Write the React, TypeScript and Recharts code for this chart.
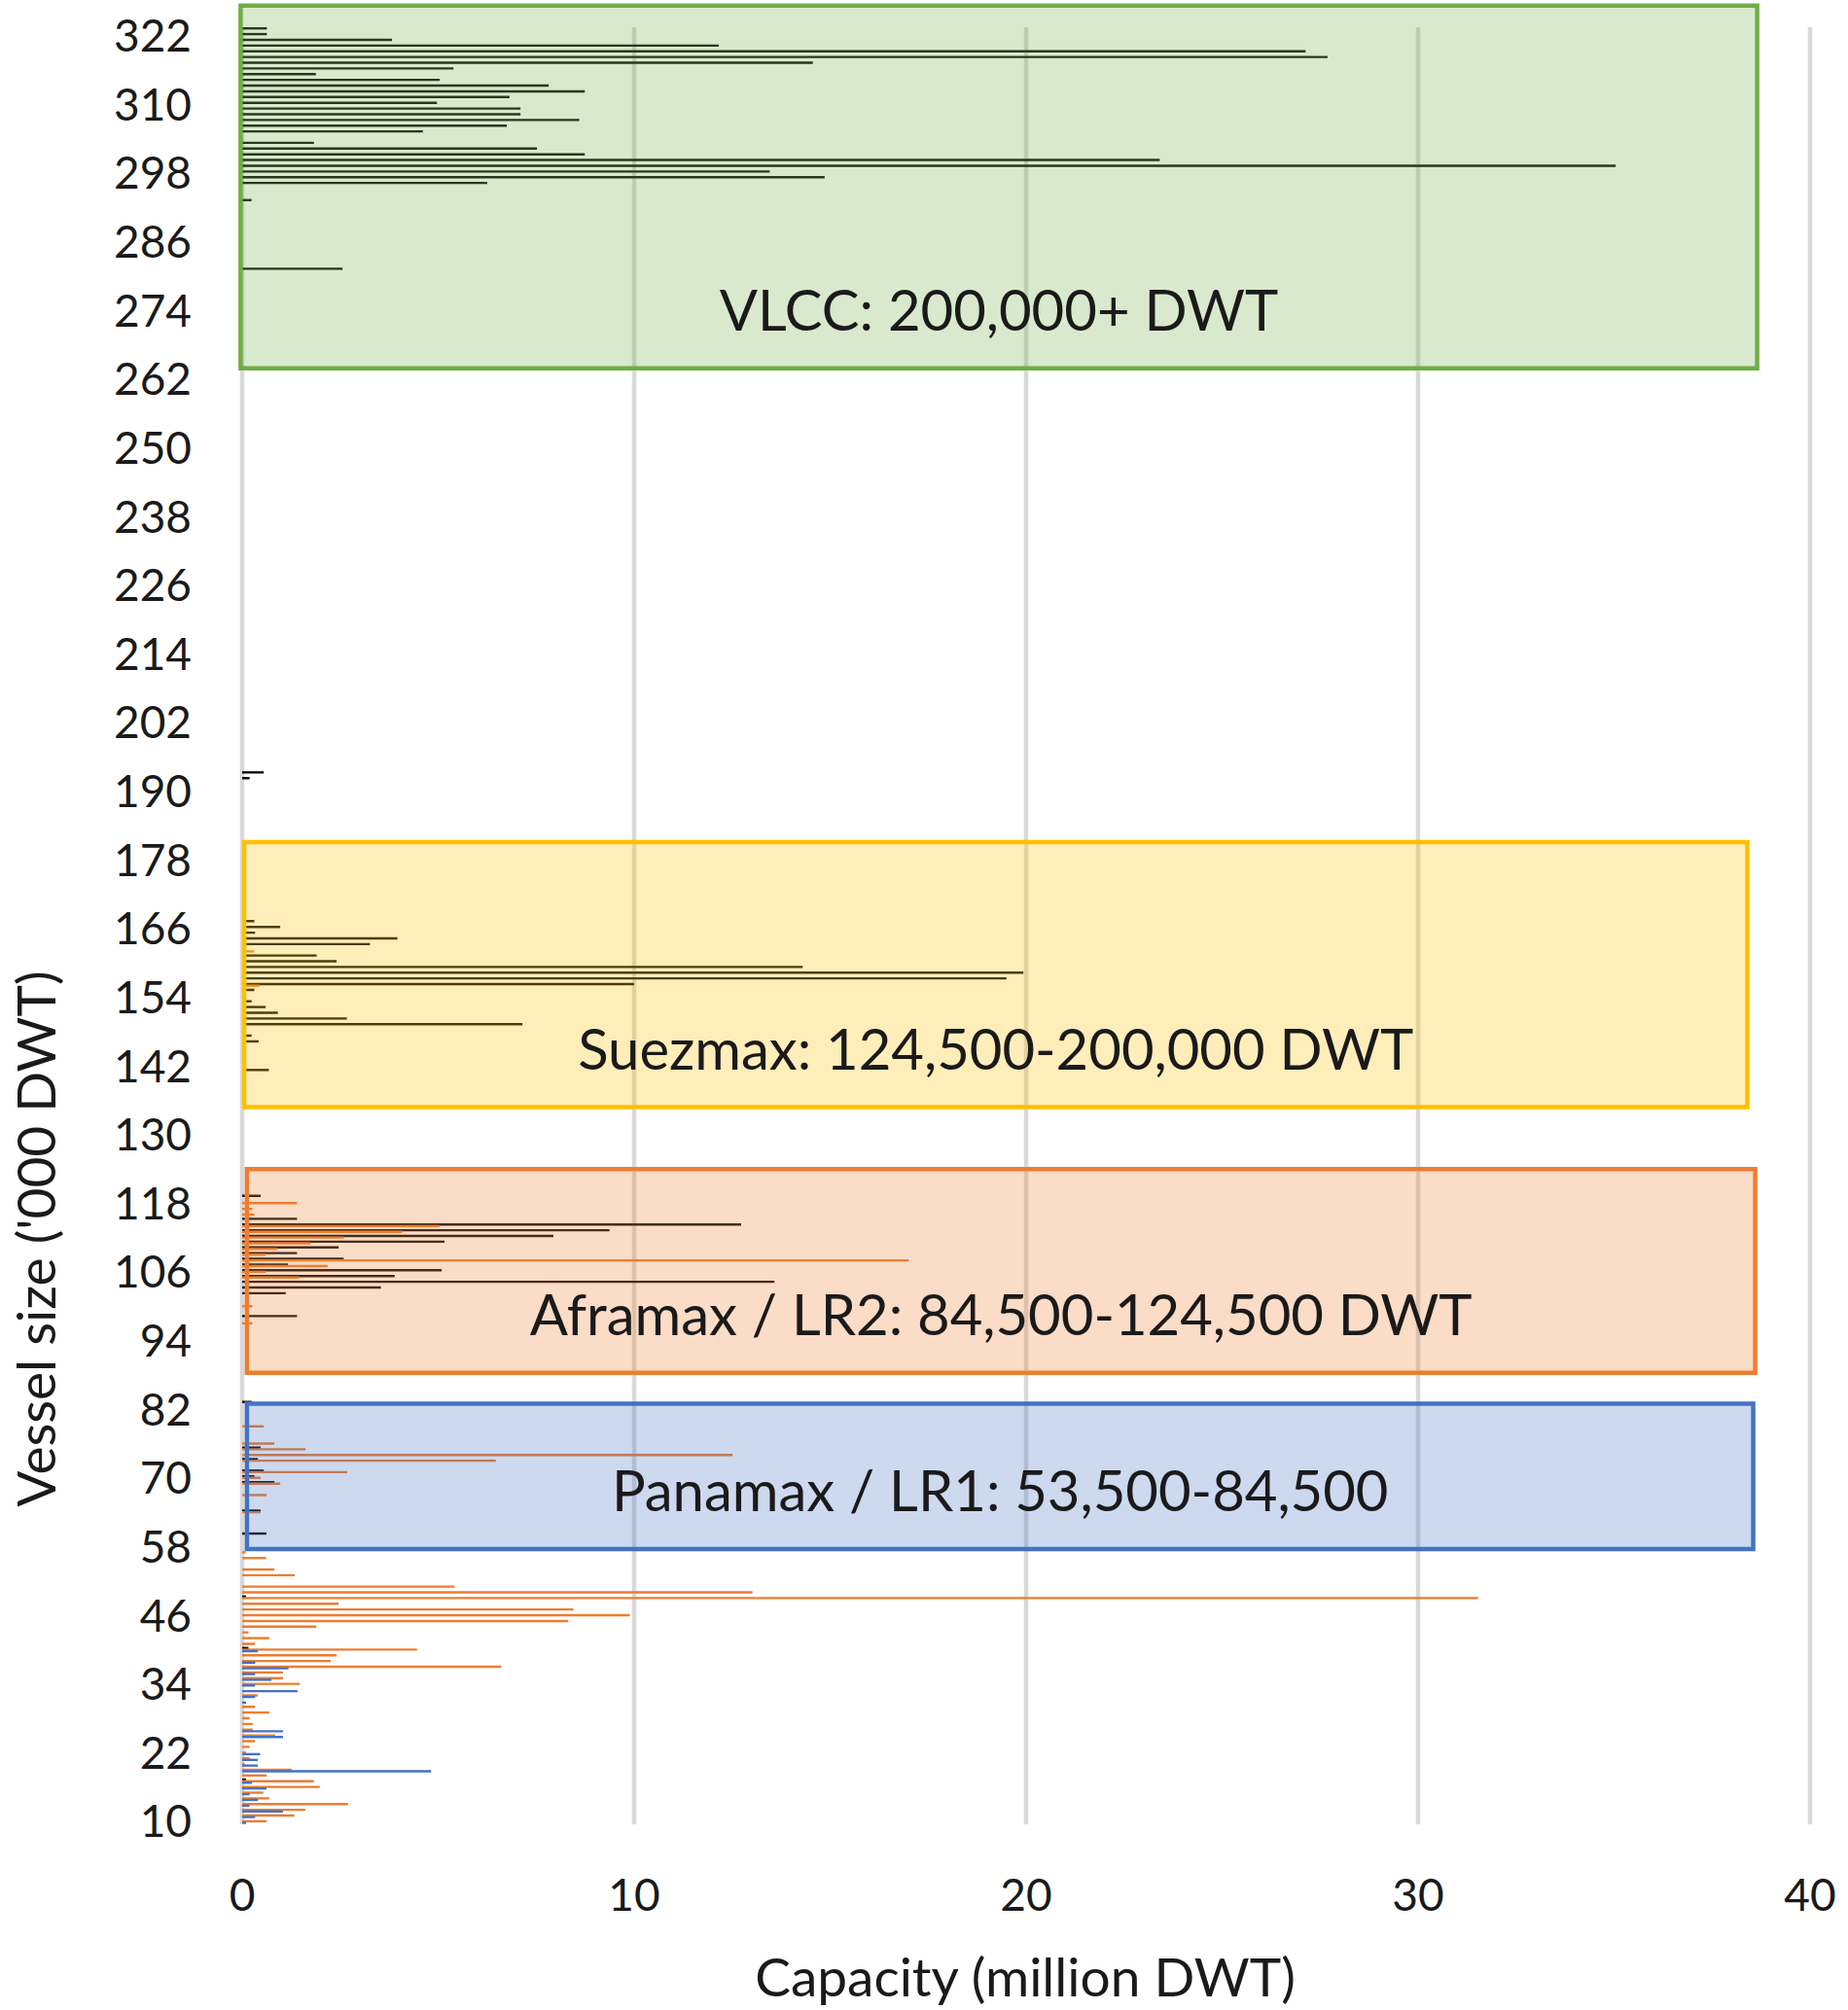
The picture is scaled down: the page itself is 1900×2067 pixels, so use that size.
import { BarChart, Bar, XAxis, YAxis, CartesianGrid, ReferenceArea } from 'recharts';

const FONT = 'Lato, "Open Sans", sans-serif';

// Vessel size bins, '000 DWT, one bin per thousand tonnes
const SIZE_MIN = 10;
const SIZE_MAX = 323;

const yTicks = [10, 22, 34, 46, 58, 70, 82, 94, 106, 118, 130, 142, 154, 166, 178, 190, 202, 214, 226, 238, 250, 262, 274, 286, 298, 310, 322];
const xTicks = [0, 10, 20, 30, 40];

// [vessel size, capacity in million DWT] -- black series
const crudeBars: [number, number][] = [
  [323, 0.63], [322, 0.63], [321, 3.82], [320, 12.16], [319, 27.13], [318, 27.69], [317, 14.56],
  [316, 5.39], [315, 1.88], [314, 5.04], [313, 7.82], [312, 8.74], [311, 6.82], [310, 4.97],
  [309, 7.1], [308, 7.1], [307, 8.6], [306, 6.75], [305, 4.61], [303, 1.83], [302, 7.52],
  [301, 8.74], [300, 23.41], [299, 35.04], [298, 13.46], [297, 14.86], [296, 6.25], [293, 0.24],
  [281, 2.56],
  [193, 0.55], [192, 0.19],
  [167, 0.31], [166, 0.97], [165, 0.33], [164, 3.96], [163, 3.26], [161, 1.9], [160, 2.41],
  [159, 14.3], [158, 19.93], [157, 19.5], [156, 10.0], [155, 0.31], [153, 0.24], [152, 0.6],
  [151, 0.91], [150, 2.67], [149, 7.15], [147, 0.24], [146, 0.42], [141, 0.68],
  [119, 0.47], [115, 1.4], [114, 12.73], [113, 9.37], [112, 7.94], [111, 5.16], [110, 2.46],
  [109, 1.4], [108, 2.59], [107, 1.17], [106, 5.09], [105, 3.89], [104, 13.58], [103, 3.54],
  [102, 1.11], [98, 1.4],
  [83, 0.24], [75, 0.47], [73, 0.4], [71, 0.55], [70, 0.31], [69, 0.82], [64, 0.47], [60, 0.62],
  [49, 0.1], [40, 0.16], [17, 0.1],
];

// orange series
const productBars: [number, number][] = [
  [162, 0.31], [156, 0.44],
  [118, 1.4], [117, 0.26], [116, 0.31], [114, 5.03], [113, 4.08], [112, 2.59], [111, 1.74],
  [110, 0.89], [109, 0.6], [108, 17.0], [107, 2.18], [106, 0.6], [105, 1.46], [100, 0.26], [97, 0.26],
  [79, 0.55], [76, 0.82], [75, 1.62], [74, 12.51], [73, 6.47], [71, 2.68], [70, 0.47], [69, 0.97],
  [67, 0.62], [64, 0.47],
  [57, 0.09], [56, 0.61], [54, 0.82], [53, 1.34], [51, 5.42], [50, 13.02], [49, 31.53], [48, 2.46],
  [47, 8.45], [46, 9.89], [45, 8.32], [44, 1.89], [43, 0.16], [42, 0.69], [41, 0.33], [40, 4.46],
  [39, 2.41], [38, 2.26], [37, 6.61], [36, 1.04], [35, 1.04], [34, 1.47], [32, 0.4], [30, 0.33],
  [29, 0.69], [28, 0.19], [27, 0.27], [26, 0.27], [25, 0.84], [24, 0.33], [23, 0.19], [22, 0.1],
  [21, 0.19], [20, 0.06], [19, 1.26], [18, 0.62], [17, 1.83], [16, 1.98], [15, 0.54], [14, 0.69],
  [13, 2.7], [12, 1.61], [11, 1.33], [10, 0.62],
];

// blue series
const chemicalBars: [number, number][] = [
  [40, 0.4], [38, 0.33], [37, 1.18], [36, 0.33], [35, 0.75], [34, 0.33], [33, 1.41], [32, 0.33],
  [31, 0.1], [26, 1.04], [25, 1.04], [22, 0.46], [21, 0.4], [20, 0.4], [19, 4.82], [17, 0.25],
  [16, 0.62], [15, 0.19], [14, 0.4], [13, 0.19], [12, 1.04], [11, 0.33], [10, 0.1],
];

// size classes: DWT range ('000) and capacity extent of the shaded box
const classNames = ['VLCC: 200,000+ DWT', 'Suezmax: 124,500-200,000 DWT', 'Aframax / LR2: 84,500-124,500 DWT', 'Panamax / LR1: 53,500-84,500'];
const classFrom = [263.9, 134.8, 88.4, 57.6];
const classTo = [327.3, 181.1, 124.0, 83.0];
const classCapFrom = [-0.04, 0.05, 0.12, 0.12];
const classCapTo = [38.65, 38.4, 38.6, 38.55];
const classColors = ['#70ad47', '#ffc000', '#ed7d31', '#4472c4'];

const sizes: number[] = [];
for (let s = SIZE_MIN; s <= SIZE_MAX; s++) sizes.push(s);

const crudeMap = new Map(crudeBars);
const productMap = new Map(productBars);
const chemicalMap = new Map(chemicalBars);

const rows = sizes.map((s) => ({
  size: s,
  crude: crudeMap.get(s) ?? null,
  product: productMap.get(s) ?? null,
  chemical: chemicalMap.get(s) ?? null,
}));

const TEXT = '#1a1a1a';

const boxLabel = (text: string) => (props: any) => {
  const vb = props.viewBox;
  if (!vb) return null;
  return (
    <text
      x={vb.x + vb.width / 2}
      y={vb.y + vb.height - 39}
      textAnchor="middle"
      fontSize={58}
      fontFamily={FONT}
      fill={TEXT}
    >
      {text}
    </text>
  );
};

export default function App() {
  return (
    <div style={{ position: 'absolute', left: 0, top: 0, width: 1900, height: 2067, background: '#fff' }}>
      <BarChart
        width={1900}
        height={2067}
        data={rows}
        layout="vertical"
        margin={{ top: 28, right: 39, bottom: 1, left: 0 }}
        barCategoryGap={0}
        barGap={-0.8}
      >
        <CartesianGrid horizontal={false} stroke="#d9d9d9" strokeWidth={4.5} />
        <XAxis
          type="number"
          domain={[0, 40]}
          ticks={xTicks}
          interval={0}
          height={190}
          axisLine={false}
          tickLine={false}
          tickSize={0}
          tickMargin={56}
          tick={{ fontSize: 46, fill: TEXT, fontFamily: FONT }}
          label={{
            content: () => (
              <text x={1054} y={2053} textAnchor="middle" fontSize={55} fontFamily={FONT} fill={TEXT}>
                Capacity (million DWT)
              </text>
            ),
          }}
        />
        <YAxis
          type="category"
          dataKey="size"
          reversed
          width={249}
          ticks={yTicks}
          interval={0}
          axisLine={false}
          tickLine={false}
          tickSize={0}
          tickMargin={52}
          tick={{ fontSize: 46, fill: TEXT, fontFamily: FONT }}
          label={{
            content: () => (
              <text
                x={57}
                y={1274}
                transform="rotate(-90 57 1274)"
                textAnchor="middle"
                fontSize={55}
                fontFamily={FONT}
                fill={TEXT}
              >
                Vessel size ('000 DWT)
              </text>
            ),
          }}
        />
        <YAxis
          yAxisId="dwt"
          type="number"
          dataKey="size"
          domain={[SIZE_MIN - 0.5, SIZE_MAX + 0.5]}
          reversed
          hide
          allowDataOverflow
        />
        <Bar dataKey="crude" fill="#0d0d0d" barSize={2.4} isAnimationActive={false} />
        <Bar dataKey="product" fill="#ed7d31" barSize={2.4} isAnimationActive={false} />
        <Bar dataKey="chemical" fill="#4472c4" barSize={2.4} isAnimationActive={false} />
        {classNames.map((name, i) => (
          <ReferenceArea
            key={name}
            yAxisId="dwt"
            x1={classCapFrom[i]}
            x2={classCapTo[i]}
            y1={classFrom[i]}
            y2={classTo[i]}
            fill={classColors[i]}
            fillOpacity={0.27}
            stroke={classColors[i]}
            strokeWidth={4.5}
            ifOverflow="visible"
            zIndex={350}
            label={{ content: boxLabel(name) }}
          />
        ))}
      </BarChart>
    </div>
  );
}
